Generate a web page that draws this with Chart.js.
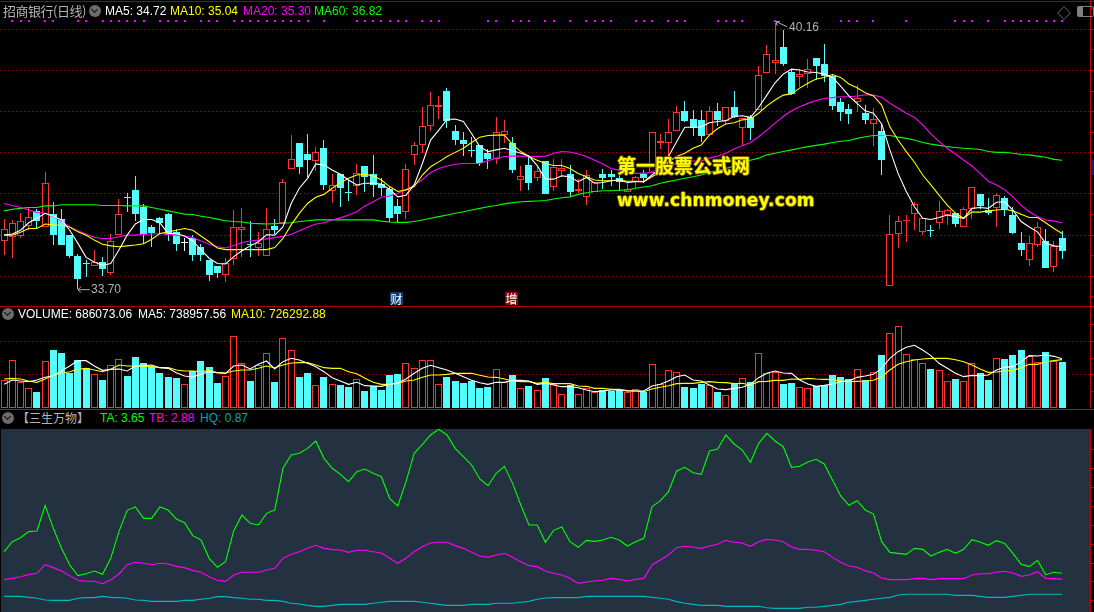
<!DOCTYPE html>
<html>
<head>
<meta charset="utf-8">
<title>招商银行(日线)</title>
<script src="https://cdn.jsdelivr.net/npm/chart.js@4"></script>
<style>
html, body { margin: 0; padding: 0; background: #000; overflow: hidden; }
#page { position: relative; width: 1094px; height: 612px; background: #000; overflow: hidden;
    font-family: "Liberation Sans", "Noto Sans CJK SC", sans-serif; font-size: 12px; }
canvas { position: absolute; left: 0; }
.txt { position: absolute; white-space: nowrap; line-height: 14px; }
.rule { position: absolute; left: 0; width: 1094px; height: 1px; }
.drop { position: absolute; width: 12px; height: 12px; border-radius: 6px; background: #6c6c6c; }
.drop::after { content: ""; position: absolute; left: 3px; top: 2px; width: 4px; height: 4px;
    border-right: 1.5px solid #111; border-bottom: 1.5px solid #111; transform: rotate(45deg); }
.badge { position: absolute; top: 292px; width: 13px; height: 13px; color: #fff; font-size: 12px;
    line-height: 13px; text-align: center; font-family: "Noto Sans CJK SC"; }
.mark { position: absolute; color: #ffff00; font-weight: bold; white-space: nowrap;
    text-shadow: 1px 0 #7a5a00, -1px 0 #7a5a00, 0 1px #7a5a00, 0 -1px #7a5a00; }
</style>
</head>
<body>
<div id="page">
    <div style="position:absolute;left:1px;top:429px;width:1090px;height:183px;background:#233140"></div>
    <canvas id="priceChart" width="1094" height="306" style="top:0"></canvas>
    <canvas id="volumeChart" width="1094" height="101" style="top:307px"></canvas>
    <canvas id="lineChart" width="1094" height="183" style="top:429px"></canvas>

    <div class="rule" style="top:1px;background:#a00000"></div>
    <div class="rule" style="top:306px;background:#b00000"></div>
    <div class="rule" style="top:409px;background:#d80000"></div>

    <div class="txt" style="left:3px;top:3px;font-size:13px;letter-spacing:-0.5px;line-height:16px;color:#b4b4b4;font-family:'Noto Sans CJK SC'">招商银行(日线)</div>
    <div class="drop" style="left:89px;top:5px"></div>
    <div class="txt" style="left:105px;top:4px;color:#fff">MA5: 34.72</div>
    <div class="txt" style="left:170px;top:4px;color:#ffff00">MA10: 35.04</div>
    <div class="txt" style="left:243px;top:4px;color:#ff00ff">MA20: 35.30</div>
    <div class="txt" style="left:314px;top:4px;color:#00ff00">MA60: 36.82</div>

    <div class="drop" style="left:2px;top:308px"></div>
    <div class="txt" style="left:18px;top:307px;color:#fff">VOLUME: 686073.06</div>
    <div class="txt" style="left:138px;top:307px;color:#fff">MA5: 738957.56</div>
    <div class="txt" style="left:231px;top:307px;color:#ffff00">MA10: 726292.88</div>

    <div class="drop" style="left:2px;top:412px"></div>
    <div class="txt" style="left:17px;top:411px;font-size:12px;color:#b4b4b4;font-family:'Noto Sans CJK SC'">【三生万物】</div>
    <div class="txt" style="left:100px;top:411px;color:#00ff00">TA: 3.65</div>
    <div class="txt" style="left:149px;top:411px;color:#ff00ff">TB: 2.88</div>
    <div class="txt" style="left:200px;top:411px;color:#00a8b8">HQ: 0.87</div>

    <div class="badge" style="left:390px;background:#0c3c70">财</div>
    <div class="badge" style="left:505px;background:#8c0808">增</div>

    <div class="mark" style="left:617px;top:152px;font-size:19px;line-height:26px;font-family:'Noto Sans CJK SC'">第一股票公式网</div>
    <div class="mark" style="left:617px;top:189px;font-size:17px;letter-spacing:0.15px;line-height:22px;font-family:'DejaVu Sans'">www.chnmoney.com</div>

    <div style="position:absolute;left:1059px;top:8px;width:8px;height:8px;border:1px solid #505050;transform:rotate(45deg)"></div>
    <div style="position:absolute;left:1077px;top:6px;width:10px;height:9px;border:1px solid #808080;border-radius:2px;border-left-width:6px"></div>
    <div style="position:absolute;left:1091px;top:160px;width:3px;height:15px;background:#101a88"></div>
</div>
<script>
// Trading days on the shared x axis, three empty slots are kept at the right
const days = Array.from({ length: 133 }, (_, i) => i + 1);

// Daily candles
const opens = [
    34.86,34.96,34.98,35.22,35.59,35.20,35.51,35.39,35.00,34.49,
    34.30,34.26,34.36,34.09,35.01,35.90,36.10,35.69,35.19,35.41,
    35.52,35.08,34.80,34.94,34.71,34.40,34.25,34.04,34.41,35.13,
    34.77,34.70,34.50,35.22,35.29,36.60,37.23,36.97,36.81,37.12,
    36.07,36.48,36.02,36.19,36.69,36.49,36.24,36.11,35.71,35.57,
    36.95,37.18,37.66,38.12,38.50,37.52,37.31,37.05,37.19,36.99,
    36.84,37.44,37.24,36.35,36.71,36.39,36.80,36.18,36.55,36.49,
    36.08,35.92,36.06,36.49,36.49,36.38,36.06,36.30,36.49,36.50,
    37.24,37.24,37.54,38.01,37.83,37.80,37.44,38.01,37.77,38.10,
    37.59,37.87,38.03,38.94,39.19,39.57,38.96,38.85,38.91,39.30,
    39.15,38.87,38.24,38.06,38.23,37.97,37.69,37.52,33.77,35.03,
    35.34,35.51,35.08,35.11,35.29,35.50,35.53,35.21,35.63,36.00,
    35.62,35.65,35.91,35.49,34.81,34.40,34.77,34.85,34.23,34.92
];
const closes = [
    35.16,35.29,35.34,35.45,35.34,36.27,35.00,34.76,34.49,33.94,
    34.30,34.34,34.17,34.87,35.51,35.90,35.52,35.02,35.05,35.29,
    35.00,34.79,34.80,34.52,34.52,34.03,34.07,34.32,35.21,35.19,
    34.77,34.80,35.16,35.12,36.28,36.84,36.66,36.82,37.01,36.21,
    36.21,36.15,36.02,36.50,36.42,36.22,36.15,35.41,35.52,36.60,
    37.18,37.66,38.15,38.16,37.78,37.31,37.22,37.05,36.75,36.85,
    37.50,37.53,36.59,36.43,36.26,36.57,36.00,36.65,36.62,36.06,
    36.12,36.45,36.28,36.40,36.42,36.28,36.12,36.41,36.40,37.50,
    37.28,37.50,37.98,37.77,37.60,37.41,38.01,37.79,38.10,37.87,
    37.84,37.59,38.88,39.41,39.25,39.16,38.43,38.91,39.04,39.11,
    38.87,38.14,37.98,37.94,38.32,37.80,37.82,36.83,35.02,35.34,
    35.37,35.75,35.41,35.11,35.58,35.61,35.27,35.63,36.16,35.72,
    35.55,35.97,35.64,35.06,34.64,34.82,35.20,34.20,34.74,34.62
];
const highs = [
    35.39,35.37,35.53,35.66,35.63,36.53,35.81,35.63,35.00,34.54,
    34.40,34.64,34.46,35.02,35.87,36.02,36.44,35.76,35.24,35.43,
    35.53,35.16,34.94,35.00,34.78,34.40,34.25,34.45,35.61,35.66,
    35.34,35.08,35.66,35.39,36.36,37.43,37.23,37.45,37.15,37.30,
    36.48,36.48,36.34,36.73,36.69,36.95,36.38,36.18,35.88,36.74,
    37.25,38.12,38.47,38.38,38.57,37.67,37.51,37.38,37.19,37.10,
    37.86,37.80,37.38,36.68,36.92,36.68,36.80,36.86,36.86,36.71,
    36.36,36.58,36.30,36.60,36.58,36.45,36.30,36.44,36.58,37.50,
    37.45,37.83,38.13,38.25,38.04,38.03,38.13,38.22,38.10,38.50,
    37.84,37.92,39.11,39.62,40.16,39.97,39.01,39.03,39.27,39.30,
    39.64,38.91,38.33,38.18,38.65,38.17,38.09,37.70,35.49,35.47,
    35.49,35.81,35.41,35.24,35.83,35.63,35.53,35.69,36.16,36.00,
    35.90,36.02,35.94,35.69,35.07,34.98,35.32,35.16,34.85,35.09
];
const lows = [
    34.52,34.45,34.92,35.12,35.14,35.20,34.76,34.76,34.44,33.70,
    33.98,34.26,34.02,34.03,35.01,35.56,35.35,34.78,34.72,35.02,
    34.87,34.62,34.62,34.38,34.38,33.89,33.96,33.87,34.28,34.48,
    34.48,34.50,34.50,35.04,35.29,36.60,36.49,36.42,36.57,36.10,
    35.79,35.69,35.83,35.98,36.06,35.92,35.94,35.31,35.31,35.40,
    36.70,37.00,37.54,37.83,37.60,37.18,36.93,36.90,36.68,36.60,
    36.74,37.23,36.52,36.08,36.10,36.32,35.99,36.08,36.42,35.94,
    36.02,35.74,36.05,36.11,36.19,36.08,36.06,36.14,36.26,36.50,
    37.10,36.91,37.54,37.75,37.41,37.25,37.44,37.64,37.70,37.84,
    37.17,37.31,38.03,38.94,38.91,39.11,38.41,38.59,38.57,38.77,
    38.73,38.04,37.78,37.70,38.00,37.70,37.17,36.46,33.77,34.69,
    34.84,35.12,35.00,34.96,35.15,35.24,35.21,35.21,35.40,35.63,
    35.48,35.21,35.47,35.04,34.49,34.26,34.72,34.20,34.11,34.42
];

// Price moving averages
const ma5 = [
    35.00,35.03,35.12,35.30,35.41,35.53,35.46,35.37,35.12,34.80,
    34.46,34.35,34.27,34.31,34.64,35.00,35.27,35.38,35.38,35.30,
    35.04,35.04,34.98,34.86,34.65,34.44,34.31,34.30,34.48,34.62,
    34.74,34.84,35.01,35.00,35.20,35.77,36.14,36.38,36.73,36.70,
    36.58,36.48,36.34,36.22,36.26,36.26,36.24,36.11,35.93,35.97,
    36.22,36.74,37.31,37.55,37.81,37.82,37.76,37.47,37.15,37.03,
    37.07,37.11,37.05,36.99,36.92,36.69,36.36,36.36,36.44,36.42,
    36.30,36.40,36.26,36.28,36.32,36.34,36.28,36.30,36.30,36.46,
    36.62,36.91,37.27,37.62,37.62,37.63,37.73,37.76,37.78,37.88,
    37.90,37.86,38.10,38.40,38.70,38.91,39.03,39.01,38.96,38.95,
    38.91,38.83,38.62,38.38,38.20,38.02,37.96,37.70,37.07,36.50,
    36.06,35.69,35.41,35.38,35.43,35.49,35.45,35.41,35.65,35.67,
    35.65,35.80,35.81,35.61,35.33,35.20,35.08,34.80,34.74,34.72
];
const ma10 = [
    35.00,35.00,35.07,35.16,35.16,35.27,35.25,35.24,35.20,35.08,
    35.00,34.88,34.78,34.74,34.72,34.74,34.76,34.79,34.90,35.04,
    35.08,35.12,35.16,35.12,34.98,34.84,34.69,34.65,34.65,34.65,
    34.65,34.65,34.65,34.70,34.92,35.25,35.53,35.77,35.92,35.99,
    36.14,36.27,36.38,36.46,36.48,36.44,36.34,36.18,36.06,36.10,
    36.18,36.46,36.66,36.78,36.91,37.01,37.11,37.25,37.38,37.42,
    37.43,37.43,37.20,37.03,36.91,36.82,36.74,36.69,36.69,36.62,
    36.50,36.42,36.34,36.32,36.32,36.34,36.31,36.31,36.30,36.42,
    36.54,36.78,36.91,36.99,37.11,37.19,37.43,37.59,37.70,37.73,
    37.80,37.82,37.96,38.14,38.28,38.40,38.43,38.57,38.69,38.79,
    38.83,38.90,38.83,38.67,38.58,38.46,38.38,38.16,37.63,37.31,
    37.03,36.77,36.46,36.22,35.97,35.73,35.53,35.41,35.56,35.56,
    35.59,35.61,35.63,35.59,35.51,35.43,35.43,35.30,35.16,35.04
];
const ma20 = [
    35.77,35.72,35.67,35.61,35.55,35.53,35.45,35.35,35.20,35.11,
    35.02,34.95,34.92,34.92,34.96,35.00,35.00,35.02,35.03,35.04,
    35.02,35.00,34.98,34.94,34.86,34.78,34.72,34.69,34.75,34.82,
    34.86,34.88,34.91,34.94,34.97,35.02,35.11,35.19,35.27,35.30,
    35.37,35.42,35.49,35.57,35.71,35.81,35.92,35.95,36.02,36.10,
    36.22,36.35,36.52,36.62,36.68,36.72,36.74,36.74,36.74,36.81,
    36.87,36.91,36.92,36.92,36.91,36.91,36.92,36.99,37.03,37.02,
    36.97,36.91,36.82,36.73,36.62,36.58,36.52,36.50,36.50,36.53,
    36.62,36.68,36.74,36.76,36.80,36.80,36.87,36.92,36.99,37.09,
    37.17,37.25,37.39,37.55,37.72,37.88,38.02,38.12,38.20,38.27,
    38.32,38.34,38.36,38.36,38.38,38.41,38.40,38.35,38.20,38.08,
    37.96,37.86,37.68,37.46,37.27,37.11,36.97,36.82,36.68,36.50,
    36.31,36.22,36.10,35.93,35.73,35.57,35.45,35.37,35.34,35.30
];
const ma60 = [
    35.59,35.63,35.65,35.67,35.67,35.71,35.71,35.74,35.74,35.74,
    35.74,35.74,35.72,35.72,35.72,35.71,35.71,35.71,35.67,35.63,
    35.59,35.55,35.51,35.50,35.46,35.43,35.39,35.35,35.33,35.32,
    35.29,35.28,35.27,35.28,35.29,35.30,35.33,35.35,35.37,35.37,
    35.37,35.37,35.37,35.37,35.37,35.37,35.34,35.32,35.31,35.31,
    35.33,35.37,35.41,35.45,35.49,35.53,35.57,35.61,35.65,35.69,
    35.72,35.76,35.79,35.81,35.82,35.83,35.84,35.88,35.91,35.93,
    35.99,36.03,36.06,36.08,36.08,36.09,36.10,36.14,36.17,36.20,
    36.26,36.30,36.34,36.38,36.42,36.46,36.52,36.57,36.62,36.68,
    36.76,36.82,36.87,36.95,36.99,37.03,37.07,37.11,37.15,37.18,
    37.21,37.25,37.28,37.30,37.35,37.39,37.42,37.42,37.42,37.38,
    37.35,37.31,37.25,37.21,37.18,37.15,37.13,37.11,37.10,37.08,
    37.03,37.01,37.01,36.99,36.96,36.95,36.92,36.89,36.84,36.82
];

// Days flagged by the magenta dots along the top of the price panel, and where the row sits
const dotDays = [
    1,2,3,5,6,9,10,12,13,14,15,16,17,19,20,21,22,24,25,26,28,29,30,31,32,33,34,35,36,37,39,
    43,44,45,46,47,48,49,51,52,53,59,60,62,63,64,66,67,69,71,72,73,74,77,78,79,81,82,83,87,88,89,
    90,94,102,103,104,106,110,116,117,118,120,122,123,124,125,126,127,128,129
];
const dotLevel = 40.21;

// Day with a flat white cross instead of a coloured doji
const whiteDays = [22];

// Volume in thousands, with its averages
const volumes = [
    415,715,385,295,240,700,870,825,520,720,
    595,505,420,640,730,480,765,675,615,520,
    465,450,355,555,705,615,375,475,1075,670,
    405,640,820,390,1045,865,465,525,340,465,
    355,345,315,430,255,325,270,495,510,670,
    595,715,715,355,465,405,375,405,300,315,
    580,390,495,295,330,265,450,355,205,345,
    205,295,235,265,255,265,235,280,245,655,
    360,565,535,315,300,360,340,240,190,355,
    445,390,820,520,545,360,375,310,295,330,
    345,495,465,435,580,420,535,795,1120,1225,
    805,730,670,585,565,400,435,400,670,520,
    420,745,735,795,870,785,685,840,705,686.073
];
const volMa5 = [
    355,420,405,395,420,460,485,560,630,710,
    710,630,565,580,585,555,630,635,645,605,
    595,530,480,465,505,545,530,520,630,645,
    585,655,705,585,695,745,720,670,620,545,
    455,405,355,385,335,330,325,355,375,435,
    520,595,640,605,570,520,470,415,380,355,
    385,385,415,415,405,355,370,345,320,320,
    305,270,245,255,270,270,255,255,255,330,
    355,405,470,495,420,405,345,285,275,295,
    310,355,455,520,555,525,520,420,360,325,
    340,360,395,405,460,480,505,595,745,845,
    910,940,870,785,670,595,520,470,490,485,
    495,570,610,620,695,785,780,795,775,738.958
];
const volMa10 = [
    435,445,435,405,385,435,495,520,545,580,
    595,570,545,580,645,630,630,625,620,605,
    605,570,555,555,545,560,530,525,555,570,
    570,595,630,605,645,675,680,680,645,605,
    595,595,545,515,445,385,355,355,370,405,
    420,460,495,495,505,520,520,520,490,465,
    460,435,405,395,395,370,385,365,365,365,
    330,325,295,295,280,280,260,255,245,285,
    310,335,365,370,370,385,395,385,380,365,
    370,345,395,400,415,415,435,430,445,435,
    430,425,405,395,400,405,415,470,570,655,
    695,720,735,745,745,745,725,695,645,585,
    535,540,555,565,605,655,655,695,710,726.293
];

// 三生万物 indicator lines
const ta = [
    6.51,7.83,8.36,9.16,9.25,12.64,9.60,6.95,4.75,3.34,
    3.60,3.95,3.51,5.63,9.16,11.98,12.42,10.92,10.92,12.42,
    12.02,10.83,10.35,8.63,8.06,5.63,4.44,5.19,9.29,11.36,
    10.26,10.04,11.58,12.02,17.54,19.30,19.52,20.18,21.15,18.86,
    17.54,16.74,15.77,17.10,17.45,16.88,16.43,13.57,12.55,15.77,
    19.52,20.71,21.95,22.70,21.95,20.18,19.08,17.98,16.13,15.24,
    16.88,17.80,15.55,12.69,10.04,10.04,7.75,9.33,9.78,7.83,
    7.09,8.01,7.88,8.06,8.41,8.06,7.26,7.83,8.28,12.47,
    13.22,14.45,17.18,17.67,16.96,16.74,19.83,20.09,21.95,20.76,
    19.96,18.33,20.84,22.17,21.15,20.40,17.67,17.80,18.38,18.73,
    18.11,15.99,13.88,12.64,13.26,12.02,11.49,7.83,6.42,6.29,
    6.16,6.95,6.82,5.94,6.42,6.82,6.29,6.82,8.10,7.79,
    7.35,7.97,7.61,6.29,4.84,4.53,5.36,3.47,3.78,3.65
];
const tb = [
    2.81,2.98,3.20,3.47,3.65,4.79,4.40,3.95,3.34,2.72,
    2.59,2.59,2.28,2.76,3.56,4.75,5.10,4.97,4.79,4.97,
    4.88,4.57,4.40,4.04,3.78,3.20,2.72,2.59,3.43,3.78,
    3.78,3.78,4.09,4.31,5.63,6.16,6.51,6.95,7.35,6.95,
    6.78,6.73,6.42,6.69,6.69,6.51,6.34,5.63,4.97,5.63,
    6.51,7.17,7.66,7.75,7.75,7.31,6.95,6.42,5.94,5.76,
    6.07,6.29,5.76,5.19,4.66,4.53,3.95,3.65,3.43,2.98,
    2.32,2.50,2.63,2.72,2.98,2.85,2.63,2.85,2.98,4.75,
    5.41,6.07,7.04,7.22,7.13,6.95,7.26,7.48,8.01,7.75,
    7.66,7.22,7.83,8.14,8.06,7.83,7.13,6.82,6.82,6.69,
    6.51,5.76,5.10,4.62,4.44,4.00,3.69,3.03,2.81,2.81,
    2.81,2.94,2.98,2.81,2.94,2.94,2.94,2.94,3.43,3.60,
    3.60,3.78,3.91,3.69,3.25,3.43,3.87,2.98,2.94,2.88
];
const hq = [
    0.60,0.60,0.60,0.47,0.34,0.12,0.07,0.07,0.07,0.34,
    0.43,0.43,0.60,0.47,0.43,0.34,0.12,0.07,-0.06,-0.06,
    -0.06,-0.06,0.07,0.07,0.21,0.34,0.56,0.56,0.43,0.34,
    0.21,0.21,0.07,0.07,-0.06,-0.32,-0.41,-0.59,-0.72,-0.72,
    -0.59,-0.46,-0.46,-0.46,-0.46,-0.32,-0.19,-0.06,-0.06,-0.06,
    -0.06,-0.19,-0.32,-0.46,-0.59,-0.59,-0.59,-0.46,-0.46,-0.46,
    -0.32,-0.32,-0.32,-0.19,-0.06,0.21,0.38,0.43,0.43,0.43,
    0.43,0.60,0.60,0.60,0.60,0.60,0.60,0.60,0.60,0.47,
    0.34,0.21,-0.10,-0.32,-0.46,-0.59,-0.59,-0.59,-0.72,-0.72,
    -0.72,-0.72,-0.72,-0.90,-0.99,-0.99,-0.99,-0.99,-0.85,-0.85,
    -0.72,-0.59,-0.46,-0.19,-0.06,0.07,0.21,0.34,0.47,0.78,
    0.87,0.87,0.87,0.87,0.87,0.87,0.73,0.73,0.73,0.60,
    0.47,0.47,0.47,0.60,0.73,0.87,0.87,0.87,0.87,0.87
];

// Tick values for the right hand marks
const priceTicks = [33.5,34,34.5,35,35.5,36,36.5,37,37.5,38,38.5,39,39.5,40,40.5];
const priceGrid = [34,35,36,37,38,39,40];
const volumeTicks = [250,500,750,1000,1250];
const volumeGrid = [500,1000];
const lineTicks = [0,2.5,5,7.5,10,12.5,15,17.5,20];

const red = '#ff3232';
const cyan = '#54fcfc';
const gridRed = '#a00000';
const axisRed = '#c00000';

// Reference is drawn on whole pixels, so snap bars and dots the same way
const snapPlugin = {
    id: 'snap',
    afterDatasetsUpdate(chart) {
        chart.data.datasets.forEach((ds, i) => {
            const meta = chart.getDatasetMeta(i);
            if (meta.type === 'bar') {
                meta.data.forEach(el => {
                    el.x = Math.floor(el.x) + 0.5;
                    el.y = Math.round(el.y);
                    el.base = Math.round(el.base);
                });
            } else if (ds.showLine === false) {
                meta.data.forEach(el => {
                    el.x = Math.round(el.x);
                    el.y = Math.round(el.y);
                });
            }
        });
    }
};

// Small arrows with the highest and lowest price of the window
const extremesPlugin = {
    id: 'extremes',
    afterDatasetsDraw(chart) {
        const ctx = chart.ctx;
        const xs = chart.scales.x, ys = chart.scales.y;
        const iLow = lows.indexOf(Math.min(...lows));
        const iHigh = highs.indexOf(Math.max(...highs));
        const lx = Math.floor(xs.getPixelForValue(iLow)) + 1, ly = ys.getPixelForValue(lows[iLow]) + 1;
        const hx = Math.floor(xs.getPixelForValue(iHigh)) + 1, hy = ys.getPixelForValue(highs[iHigh]) - 1;
        ctx.save();
        ctx.strokeStyle = '#b0b0b0';
        ctx.lineWidth = 1;
        ctx.beginPath();
        ctx.moveTo(lx, ly); ctx.lineTo(lx + 12, ly);
        ctx.moveTo(lx + 3, ly - 3); ctx.lineTo(lx, ly); ctx.lineTo(lx + 3, ly + 3);
        ctx.moveTo(hx, hy); ctx.lineTo(hx + 11, hy + 5);
        ctx.moveTo(hx + 4, hy); ctx.lineTo(hx, hy); ctx.lineTo(hx + 1, hy + 4);
        ctx.stroke();
        ctx.fillStyle = '#b0b0b0';
        ctx.font = '12px "Liberation Sans"';
        ctx.textBaseline = 'middle';
        ctx.fillText(lows[iLow].toFixed(2), lx + 13, ly);
        ctx.fillText(highs[iHigh].toFixed(2), hx + 13, hy + 6);
        ctx.restore();
    }
};

// Build one y axis: grid values get the dotted line, all values get a short mark on the right
function yAxis(min, max, ticks, grid) {
    return {
        position: 'right',
        min: min,
        max: max,
        afterBuildTicks: axis => { axis.ticks = ticks.map(v => ({ value: v })); },
        afterFit: axis => { axis.width = 3.2; },
        ticks: { display: false },
        border: { display: true, color: axisRed, dash: [1, 3] },
        grid: {
            drawOnChartArea: true,
            color: c => (grid.includes(c.tick.value) ? gridRed : 'rgba(0,0,0,0)'),
            tickColor: axisRed,
            tickLength: 3,
            tickBorderDash: []
        }
    };
}

function baseOptions(yScale) {
    return {
        responsive: false,
        animation: false,
        devicePixelRatio: 1,
        layout: { padding: 0, autoPadding: false },
        plugins: { legend: { display: false }, tooltip: { enabled: false } },
        scales: {
            x: { display: false, offset: true, ticks: { display: false }, grid: { display: false } },
            y: yScale
        }
    };
}

function lineSet(label, data, color, order) {
    return { type: 'line', label: label, data: data, borderColor: color, borderWidth: 1.1,
        pointRadius: 0, tension: 0, order: order };
}

// Candles are floating bars: one thin for the wick, one wide for the body
function drawPriceChart() {
    const isUp = opens.map((o, i) => closes[i] > o);
    const tint = i => (whiteDays.includes(i) ? '#ffffff' : (isUp[i] ? red : cyan));
    new Chart(document.getElementById('priceChart'), {
        type: 'bar',
        data: {
            labels: days,
            datasets: [
                lineSet('MA60', ma60, '#00ff00', 4),
                lineSet('MA20', ma20, '#ff00ff', 3),
                lineSet('MA10', ma10, '#ffff00', 2),
                lineSet('MA5', ma5, '#ffffff', 1),
                {
                    label: 'wick',
                    data: highs.map((h, i) => [lows[i], h]),
                    backgroundColor: opens.map((_, i) => tint(i)),
                    barThickness: 1,
                    inflateAmount: 0,
                    grouped: false,
                    order: 6
                },
                {
                    label: 'body',
                    data: opens.map((o, i) => [o, closes[i]]),
                    backgroundColor: opens.map((_, i) => (isUp[i] ? '#000000' : tint(i))),
                    borderColor: opens.map((_, i) => tint(i)),
                    borderWidth: 1,
                    borderSkipped: false,
                    barThickness: 7,
                    inflateAmount: 0,
                    minBarLength: 1,
                    grouped: false,
                    order: 5
                },
                {
                    type: 'line',
                    label: 'flags',
                    data: opens.map((_, i) => (dotDays.includes(i) ? dotLevel : null)),
                    showLine: false,
                    pointStyle: 'rect',
                    pointRadius: 1.42,
                    pointBackgroundColor: '#ff00ff',
                    pointBorderWidth: 0,
                    order: 0
                }
            ]
        },
        options: baseOptions(yAxis(33.28, 40.71, priceTicks, priceGrid)),
        plugins: [snapPlugin, extremesPlugin]
    });
}

function drawVolumeChart() {
    const isUp = opens.map((o, i) => closes[i] > o || whiteDays.includes(i));
    new Chart(document.getElementById('volumeChart'), {
        type: 'bar',
        data: {
            labels: days,
            datasets: [
                lineSet('MA5', volMa5, '#ffffff', 1),
                lineSet('MA10', volMa10, '#ffff00', 2),
                {
                    label: 'VOLUME',
                    data: volumes,
                    backgroundColor: isUp.map(up => (up ? '#000000' : cyan)),
                    borderColor: isUp.map(up => (up ? red : cyan)),
                    borderWidth: 1,
                    borderSkipped: false,
                    barThickness: 7,
                    inflateAmount: 0,
                    grouped: false,
                    order: 3
                }
            ]
        },
        options: baseOptions(yAxis(0, 1515, volumeTicks, volumeGrid)),
        plugins: [snapPlugin]
    });
}

function drawLineChart() {
    new Chart(document.getElementById('lineChart'), {
        type: 'line',
        data: {
            labels: days,
            datasets: [
                lineSet('TA', ta, '#00ff00', 1),
                lineSet('TB', tb, '#ff00ff', 2),
                lineSet('HQ', hq, '#00b8c0', 3)
            ]
        },
        options: baseOptions(yAxis(-1.47, 22.74, lineTicks, [])),
    });
}

drawPriceChart();
drawVolumeChart();
drawLineChart();
</script>
</body>
</html>
